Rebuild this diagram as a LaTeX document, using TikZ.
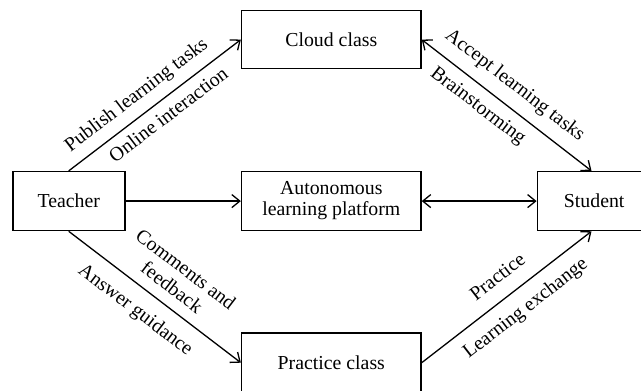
\documentclass[tikz,border=0pt]{standalone}
\usepackage{fontspec}
\setmainfont{Liberation Serif}
\usetikzlibrary{arrows.meta}
\begin{document}
\begin{tikzpicture}[x=1pt,y=1pt,
  box/.style={draw, line width=1.6pt, inner sep=0pt, align=center,
    font=\fontsize{19.8}{21}\selectfont},
  conn/.style={line width=1.3pt, -{Straight Barb[length=8pt,width=13pt,line width=1.3pt]}},
  bconn/.style={line width=1.3pt, {Straight Barb[length=8pt,width=13pt,line width=1.3pt]}-{Straight Barb[length=8pt,width=13pt,line width=1.3pt]}},
  lab/.style={inner sep=0pt, sloped, font=\fontsize{19.8}{23}\selectfont, text height=13.5pt, text depth=4pt},
  mlab/.style={inner sep=0pt, sloped, align=center, font=\fontsize{19.8}{23}\selectfont}]
\useasboundingbox (0,0) rectangle (641,391);
\node[box, minimum width=112pt, minimum height=58.8pt] (teacher) at (68.7,189.9) {Teacher};
\node[box, minimum width=179.3pt, minimum height=57.8pt] (cloud) at (331.3,351.4) {Cloud class};
\node[box, minimum width=179.3pt, minimum height=58.8pt] (auto) at (331.3,189.9) {Autonomous\\learning platform};
\node[box, minimum width=179.3pt, minimum height=58.8pt] (practice) at (331.3,28.3) {Practice class};
\node[box, minimum width=113.5pt, minimum height=58.8pt] (student) at (594.2,189.9) {Student};
\draw[conn] (teacher.north) -- (cloud.west)
  node[lab, pos=0.461, above=9.2pt] {Publish learning tasks}
  node[lab, pos=0.524, below=7.8pt] {Online interaction};
\draw[bconn] (cloud.east) -- ([xshift=-2.7pt]student.north)
  node[lab, pos=0.474, above=11pt] {Accept learning tasks}
  node[lab, pos=0.397, below=9pt] {Brainstorming};
\draw[conn] (teacher.east) -- (auto.west);
\draw[bconn] (auto.east) -- (student.west);
\draw[conn] (teacher.south) -- (practice.west)
  node[mlab, pos=0.536, above=10.7pt] {Comments and\\feedback}
  node[lab, pos=0.466, below=13.3pt] {Answer guidance};
\draw[conn] (practice.east) -- ([xshift=-2.7pt]student.south)
  node[lab, pos=0.524, above=10.8pt] {Practice}
  node[lab, pos=0.537, below=11.7pt] {Learning exchange};
\end{tikzpicture}
\end{document}
